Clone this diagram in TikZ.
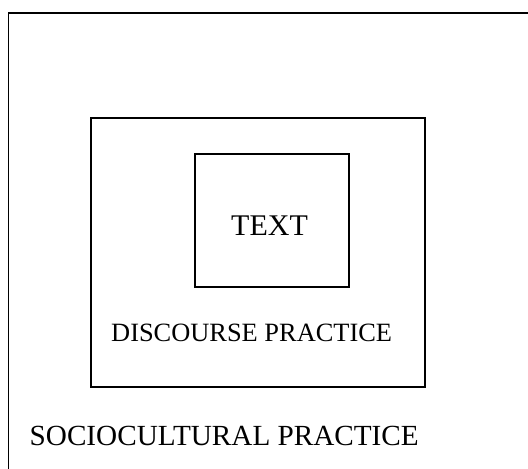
\documentclass[tikz,border=0pt]{standalone}
\usepackage{fontspec}
\setmainfont{Liberation Serif}
\begin{document}
\begin{tikzpicture}[x=1pt,y=-1pt,
  frame/.style={draw=black,line width=1.6pt},
  lbl/.style={inner sep=0pt,anchor=base west,text=black}]
\useasboundingbox (0,0) rectangle (528,469);
\clip (0,0) rectangle (528,469);
% outer context: open to the right and below
\coordinate (oTL) at (8.5,13);
\coordinate (oBL) at (8.5,480);
\coordinate (oTR) at (540,13);
\draw[frame,line width=1.8pt] (oBL) -- (oTL) -- (oTR);
% discourse practice frame
\node[frame,minimum width=334pt,minimum height=269pt,inner sep=0pt] (disc) at (258,252.5) {};
% text frame
\node[frame,minimum width=154pt,minimum height=133pt,inner sep=0pt] (txt) at (272,220.5) {};
% labels
\node[lbl,font=\fontsize{30}{36}\selectfont] (tlabel) at (231,235) {TEXT};
\node[lbl,font=\fontsize{26.4}{32}\selectfont] (dlabel) at (111,341) {DISCOURSE PRACTICE};
\node[lbl,font=\fontsize{29.2}{35}\selectfont] (slabel) at (29.5,445) {SOCIOCULTURAL PRACTICE};
\end{tikzpicture}
\end{document}
